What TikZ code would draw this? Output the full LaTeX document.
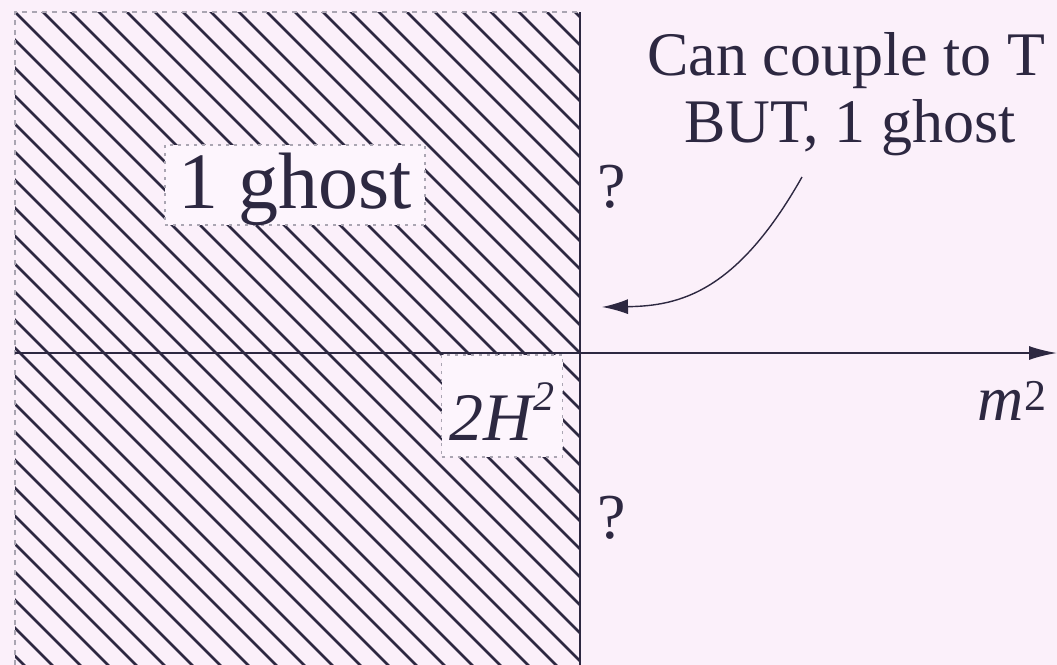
\documentclass[tikz,border=0pt]{standalone}
\usepackage{fontspec}
\setmainfont{Liberation Serif}
\usetikzlibrary{arrows.meta}
\definecolor{bg}{RGB}{251,240,250}
\definecolor{boxbg}{RGB}{253,245,253}
\definecolor{ink}{RGB}{45,40,65}
\definecolor{dotc}{RGB}{170,165,178}
\tikzset{
  hatch/.style={draw=ink,line width=1.25pt},
  border/.style={draw=dotc,line width=0.6pt,dash pattern=on 2.5pt off 2.5pt},
  lblbox/.style={fill=boxbg,draw=dotc,line width=0.6pt,dash pattern=on 1.5pt off 2.5pt,inner sep=0pt,anchor=base},
  txt/.style={text=ink,inner sep=0pt,anchor=base},
  axis/.style={draw=ink,line width=1pt},
  tip/.style={-{Latex[length=14pt,width=7pt]}}
}
\begin{document}
\begin{tikzpicture}[x=0.5pt,y=-0.5pt]
\fill[bg] (0,0) rectangle (1057,665);
\useasboundingbox (0,0) rectangle (1057,665);
% hatched region
\begin{scope}
  \clip (15,12) rectangle (580,665);
  \foreach \c in {-725,-697,...,600} \draw[hatch] (\c,0) -- ++(720,720);
\end{scope}
\draw[border] (15,665) -- (15,12) -- (580,12);
\draw[ink,line width=1.4pt] (580,12) -- (580,665);
% axis
\coordinate (ax0) at (15,353);
\coordinate (ax1) at (1057,353);
\draw[axis,tip] (ax0) -- (ax1);
% labels in boxes
\node[lblbox,minimum width=130pt,text height=31.5pt,text depth=8.5pt,font=\fontsize{40}{42}\selectfont,text=ink] (ghost) at (295,208) {1 ghost};
\node[lblbox,minimum width=60.5pt,text height=42.5pt,text depth=8.5pt,font=\fontsize{34}{36}\selectfont,text=ink] (hh) at (502,440) {\textit{2H\raisebox{15pt}{\fontsize{21}{21}\selectfont 2}}};
\node[txt,font=\fontsize{32}{34}\selectfont] (m2) at (1012,420) {\textit{m}\raisebox{5pt}{\fontsize{22}{22}\selectfont 2}};
% question marks
\node[txt,font=\fontsize{32}{34}\selectfont] (q1) at (612,207) {?};
\node[txt,font=\fontsize{32}{34}\selectfont] (q2) at (612,538) {?};
% note
\node[txt,font=\fontsize{31}{33}\selectfont] (l1) at (846,75) {Can couple to T};
\node[txt,font=\fontsize{31}{33}\selectfont] (l2) at (850,142) {BUT, 1 ghost};
\coordinate (cs) at (802,177);
\coordinate (ce) at (602,307);
\draw[ink,line width=0.7pt,-{Latex[length=13pt,width=7.5pt]}] (cs) .. controls (737,292) and (680,306) .. (ce);
\end{tikzpicture}
\end{document}
